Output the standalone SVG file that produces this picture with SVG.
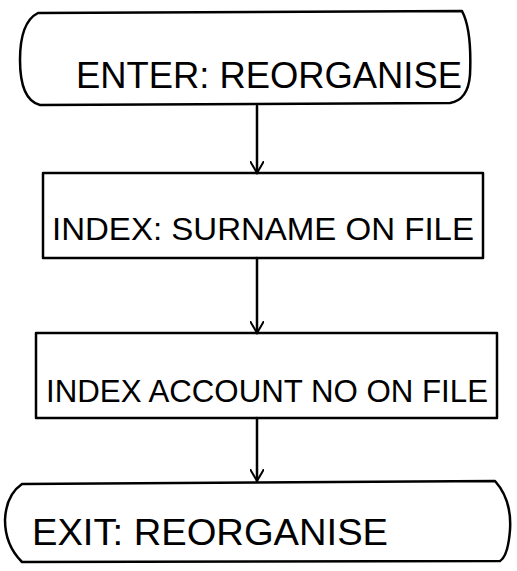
<svg xmlns="http://www.w3.org/2000/svg" width="517" height="571" viewBox="0 0 517 571">
<style>
.s{fill:none;stroke:#000;stroke-width:2.5;stroke-linecap:round;stroke-linejoin:round}
.t{font-family:"Liberation Sans",Arial,sans-serif;fill:#000;font-weight:normal}
</style>
<defs>
<marker id="v" markerWidth="14" markerHeight="14" refX="12" refY="7" orient="auto" markerUnits="userSpaceOnUse">
<path d="M0,0 L12,7 L0,14" fill="none" stroke="#000" stroke-width="2"/>
</marker>
</defs>
<rect width="517" height="571" fill="#fff"/>
<g id="connectors">
<path class="s" d="M257,106 L257,173" marker-end="url(#v)"/>
<path class="s" d="M257,258 L257,333" marker-end="url(#v)"/>
<path class="s" d="M257,418 L257,481" marker-end="url(#v)"/>
</g>
<g id="enter">
<path class="s" d="M38,13 L462,11 Q472,30 470,75 Q468,100 450,103 L40,105 Q20,100 20,60 Q20,22 38,13 Z"/>
<text class="t" x="76" y="88" font-size="36" textLength="386" lengthAdjust="spacingAndGlyphs">ENTER: REORGANISE</text>
</g>
<g id="index-surname">
<rect class="s" x="43" y="173" width="440" height="85"/>
<text class="t" x="52" y="240" font-size="32" textLength="422" lengthAdjust="spacingAndGlyphs">INDEX: SURNAME ON FILE</text>
</g>
<g id="index-account">
<rect class="s" x="36" y="333" width="461" height="85"/>
<text class="t" x="46" y="402" font-size="32" textLength="442" lengthAdjust="spacingAndGlyphs">INDEX ACCOUNT NO ON FILE</text>
</g>
<g id="exit">
<path class="s" d="M22,484 L495,481 Q512,500 510,530 Q508,556 500,561 L22,562 Q5,545 5,520 Q6,495 22,484 Z"/>
<text class="t" x="32" y="545" font-size="36" textLength="356" lengthAdjust="spacingAndGlyphs">EXIT: REORGANISE</text>
</g>
</svg>
